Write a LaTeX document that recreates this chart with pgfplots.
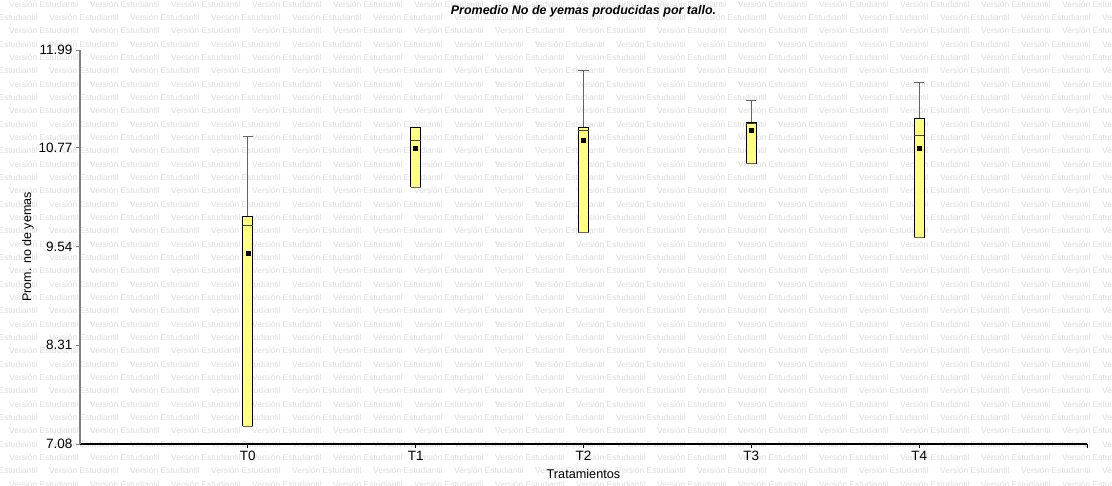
\documentclass[border=0pt]{standalone}
\usepackage{fontspec}
\setmainfont{Liberation Sans}
\usepackage{pgfplots}
\pgfplotsset{compat=1.18}
\definecolor{boxyellow}{RGB}{255,255,128}
\definecolor{wm}{RGB}{222,222,222}
\definecolor{axgray}{RGB}{128,128,128}
\definecolor{whgray}{RGB}{100,100,100}
\begin{document}
\begin{tikzpicture}
\useasboundingbox (0,0) rectangle (1112bp,486bp);
\fill[white] (0,0) rectangle (1112bp,486bp);
\begin{scope}[x=1bp,y=1bp]
\clip (0,0) rectangle (1112,486);
\foreach \k in {-4,...,36}{
  \pgfmathsetmacro{\yy}{42+13.333*\k}
  \pgfmathtruncatemacro{\pp}{mod(\k+40,2)}
  \pgfmathsetmacro{\xo}{\pp==0 ? 49 : 9}
  \foreach \n in {-1,...,13}{
    \node[anchor=west, inner sep=0pt, text=wm, font=\fontsize{8.45bp}{9bp}\selectfont] at ({\xo+81*\n},\yy) {Versión Estudiantil};
  }
}
\end{scope}
\begin{axis}[at={(80bp,42bp)}, anchor=south west, scale only axis,
  width=1007bp, height=394bp,
  xmin=-1, xmax=5, ymin=7.08, ymax=11.99,
  axis x line=bottom, axis y line=left, axis line style={-},
  x axis line style={black, line width=1.1bp},
  y axis line style={axgray, line width=1.6bp},
  xtick={0,1,2,3,4,5}, xticklabels={T0,T1,T2,T3,T4,{}},
  ytick={7.08,8.31,9.54,10.77,11.99}, yticklabels={7.08,8.31,9.54,10.77,11.99},
  tick align=outside, major tick length=4bp,
  x tick style={black, line width=0.8bp},
  y tick style={axgray, line width=0.8bp},
  tick label style={font=\fontsize{13.5bp}{15bp}\selectfont},
  title={Promedio No de yemas producidas por tallo.},
  title style={at={(0.5,1)}, anchor=center, yshift=33bp, font=\fontsize{12.5bp}{14bp}\selectfont\bfseries\itshape},
  xlabel={Tratamientos},
  xlabel style={at={(0.5,0)}, anchor=center, yshift=-30bp, font=\fontsize{12.7bp}{14bp}\selectfont},
  ylabel={Prom. no de yemas},
  ylabel style={at={(0,0.5)}, anchor=center, yshift=52bp, font=\fontsize{12.5bp}{14bp}\selectfont},
  clip=false,
  box/.style={draw=black, fill=boxyellow, line width=0.9bp, line join=miter, mark=none},
  whisk/.style={draw=whgray, line width=0.9bp, mark=none},
  med/.style={draw=black!75, line width=0.9bp, mark=none},
]
% T0: q1 7.30, median 9.80, q3 9.91, upper whisker 10.91
\addplot[whisk] coordinates {(0,9.91) (0,10.91)};
\addplot[whisk] coordinates {(-0.03,10.91) (0.03,10.91)};
\addplot[box] coordinates {(-0.03,7.30) (0.03,7.30) (0.03,9.91) (-0.03,9.91) (-0.03,7.30)};
\addplot[med] coordinates {(-0.03,9.80) (0.03,9.80)};
\addplot[whisk] coordinates {(-0.03,7.30) (0.03,7.30)};
% T1: q1 10.28, median 10.86, q3 11.03, no whisker
\addplot[box] coordinates {(0.97,10.28) (1.03,10.28) (1.03,11.03) (0.97,11.03) (0.97,10.28)};
\addplot[med] coordinates {(0.97,10.86) (1.03,10.86)};
\addplot[whisk] coordinates {(0.97,10.28) (1.03,10.28)};
% T2: q1 9.72, median 10.99, q3 11.03, upper whisker 11.73
\addplot[whisk] coordinates {(2,11.03) (2,11.73)};
\addplot[whisk] coordinates {(1.97,11.73) (2.03,11.73)};
\addplot[box] coordinates {(1.97,9.72) (2.03,9.72) (2.03,11.03) (1.97,11.03) (1.97,9.72)};
\addplot[med] coordinates {(1.97,10.99) (2.03,10.99)};
\addplot[whisk] coordinates {(1.97,9.72) (2.03,9.72)};
% T3: q1 10.57, median 11.07, q3 11.09, upper whisker 11.36
\addplot[whisk] coordinates {(3,11.09) (3,11.36)};
\addplot[whisk] coordinates {(2.97,11.36) (3.03,11.36)};
\addplot[box] coordinates {(2.97,10.57) (3.03,10.57) (3.03,11.09) (2.97,11.09) (2.97,10.57)};
\addplot[med] coordinates {(2.97,11.07) (3.03,11.07)};
\addplot[whisk] coordinates {(2.97,10.57) (3.03,10.57)};
% T4: q1 9.65, median 10.92, q3 11.14, upper whisker 11.58
\addplot[whisk] coordinates {(4,11.14) (4,11.58)};
\addplot[whisk] coordinates {(3.97,11.58) (4.03,11.58)};
\addplot[box] coordinates {(3.97,9.65) (4.03,9.65) (4.03,11.14) (3.97,11.14) (3.97,9.65)};
\addplot[med] coordinates {(3.97,10.92) (4.03,10.92)};
\addplot[whisk] coordinates {(3.97,9.65) (4.03,9.65)};
% means
\addplot[only marks, mark=square*, mark size=2bp, black] coordinates {(0,9.46) (1,10.76) (2,10.86) (3,10.99) (4,10.77)};
\end{axis}
\end{tikzpicture}
\end{document}
